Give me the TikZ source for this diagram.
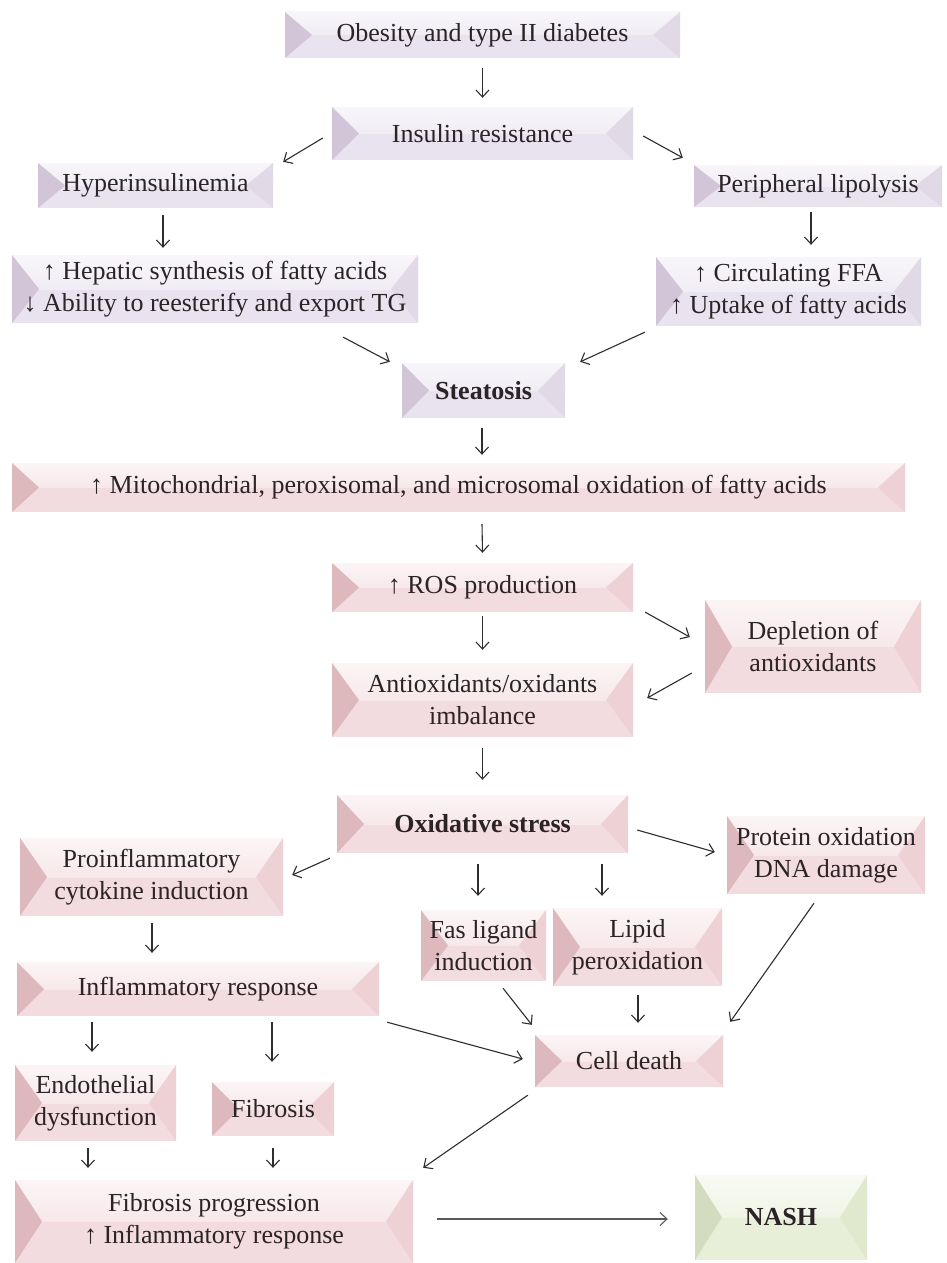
\documentclass[tikz,border=0pt]{standalone}
\usepackage{fontspec}
\setmainfont{Liberation Serif}
\usetikzlibrary{calc,arrows.meta}
\definecolor{pu}{HTML}{E9E2EF}
\definecolor{puL}{HTML}{D2C5D8}
\definecolor{puR}{HTML}{E2D9E7}
\definecolor{pk}{HTML}{F3DCDF}
\definecolor{pkL}{HTML}{DDB9BE}
\definecolor{pkR}{HTML}{EDD1D5}
\definecolor{gr}{HTML}{E8EFD8}
\definecolor{grL}{HTML}{D3DCBE}
\definecolor{grR}{HTML}{E0E8CD}
\definecolor{txt}{HTML}{2B2326}
\definecolor{arc}{HTML}{2E2E2E}
\tikzset{
  box/.style n args={3}{fill=#1, draw=none, inner sep=0pt, align=center, text=txt,
    font=\fontsize{26}{32}\selectfont,
    path picture={
      \shade[top color=white!70!#1, bottom color=#1]
        (path picture bounding box.north west) rectangle
        ($(path picture bounding box.north east)!0.5!(path picture bounding box.south east)$);
      \fill[#3] (path picture bounding box.south east) -- (path picture bounding box.north east)
        -- ($(path picture bounding box.east)+(-27,0)$) -- cycle;
      \fill[#2] (path picture bounding box.south west) -- (path picture bounding box.north west)
        -- ($(path picture bounding box.west)+(27,0)$) -- cycle;
    }},
  pbox/.style={box={pu}{puL}{puR}},
  kbox/.style={box={pk}{pkL}{pkR}},
  gbox/.style={box={gr}{grL}{grR}},
  arr/.style={draw=arc, line width=1.1pt, -{Straight Barb[length=7pt,width=13pt,line width=1.1pt]}},
}
\begin{document}
\begin{tikzpicture}[x=1pt,y=-1pt]
\useasboundingbox[fill=white] (0,0) rectangle (946,1263);
% purple boxes
\node[pbox, minimum width=395pt, minimum height=46pt] (obes) at (482.5,35) {Obesity and type II diabetes};
\node[pbox, minimum width=301pt, minimum height=53pt] (ins) at (482.5,133.5) {Insulin resistance};
\node[pbox, minimum width=235pt, minimum height=45pt] (hyp) at (155.5,185.5) {Hyperinsulinemia};
\node[pbox, minimum width=248pt, minimum height=42pt] (per) at (818,186) {Peripheral lipolysis};
\node[pbox, minimum width=406pt, minimum height=68pt] (hep) at (215,289) {↑ Hepatic synthesis of fatty acids\\↓ Ability to reesterify and export TG};
\node[pbox, minimum width=265pt, minimum height=69pt] (circ) at (788.5,291.5) {↑ Circulating FFA\\↑ Uptake of fatty acids};
\node[pbox, minimum width=163pt, minimum height=55pt] (ste) at (483.5,390.5) {\bfseries Steatosis};
% pink boxes
\node[kbox, minimum width=893pt, minimum height=49pt] (mito) at (458.5,487.5) {↑ Mitochondrial, peroxisomal, and microsomal oxidation of fatty acids};
\node[kbox, minimum width=301pt, minimum height=49pt] (ros) at (482.5,587.5) {↑ ROS production};
\node[kbox, minimum width=301pt, minimum height=74pt] (anti) at (482.5,700) {Antioxidants/oxidants\\imbalance};
\node[kbox, minimum width=216pt, minimum height=93pt] (dep) at (813,646.5) {Depletion of\\antioxidants};
\node[kbox, minimum width=291pt, minimum height=58pt] (oxs) at (482.5,824) {\bfseries Oxidative stress};
\node[kbox, minimum width=198pt, minimum height=78pt] (prot) at (826,855) {Protein oxidation\\DNA damage};
\node[kbox, minimum width=263pt, minimum height=78pt] (pro) at (151.5,877) {Proinflammatory\\cytokine induction};
\node[kbox, minimum width=125pt, minimum height=71pt] (fas) at (483.5,945.5) {Fas ligand\\induction};
\node[kbox, minimum width=169pt, minimum height=78pt] (lip) at (637.5,947) {Lipid\\peroxidation};
\node[kbox, minimum width=362pt, minimum height=54pt] (infl) at (198,989) {Inflammatory response};
\node[kbox, minimum width=188pt, minimum height=52pt] (cell) at (629,1061) {Cell death};
\node[kbox, minimum width=161pt, minimum height=76pt] (endo) at (95.5,1103) {Endothelial\\dysfunction};
\node[kbox, minimum width=122pt, minimum height=54pt] (fib) at (273,1109) {Fibrosis};
\node[kbox, minimum width=398pt, minimum height=83pt] (fp) at (214,1221.5) {Fibrosis progression\\↑ Inflammatory response};
\node[gbox, minimum width=172pt, minimum height=85pt] (nash) at (781,1217.5) {\bfseries NASH};
% arrows
\draw[arr] ($(obes.south)+(0,10)$) -- ($(ins.north)+(0,-9)$);
\draw[arr] ($(ins.west)+(-9,4.5)$) -- ($(hyp.north east)+(10,-1)$);
\draw[arr] ($(ins.east)+(10,2.5)$) -- ($(per.north west)+(-11,-7)$);
\draw[arr] ($(hyp.south)+(7.5,7)$) -- ($(hep.north)+(-52,-7)$);
\draw[arr] ($(per.south)+(-7,5)$) -- ($(circ.north)+(22.5,-12)$);
\draw[arr] ($(hep.south east)+(-75,14)$) -- ($(ste.north west)+(-12,-1)$);
\draw[arr] ($(circ.south west)+(-11,6)$) -- ($(ste.north east)+(15,-1)$);
\draw[arr] ($(ste.south)+(-1.5,10)$) -- ($(mito.north)+(23.5,-8)$);
\draw[arr] ($(mito.south)+(23.5,12)$) -- ($(ros.north)+(0,-10)$);
\draw[arr] ($(ros.south)+(0,4)$) -- ($(anti.north)+(0,-13)$);
\draw[arr] ($(ros.south east)+(12,0)$) -- ($(dep.west)+(-15,-9.5)$);
\draw[arr] ($(dep.west)+(-13,26.5)$) -- ($(anti.east)+(14,-2)$);
\draw[arr] ($(anti.south)+(0,11)$) -- ($(oxs.north)+(0,-15)$);
\draw[arr] ($(oxs.south west)+(-7,5)$) -- ($(pro.east)+(9,-2)$);
\draw[arr] ($(oxs.east)+(9,6)$) -- ($(prot.west)+(-12,-3)$);
\draw[arr] ($(oxs.south)+(-4.5,11)$) -- ($(fas.north)+(-5.5,-14)$);
\draw[arr] ($(oxs.south)+(119.5,11)$) -- ($(lip.north)+(-35.5,-12)$);
\draw[arr] ($(pro.south)+(0.5,7)$) -- ($(infl.north)+(-46,-9)$);
\draw[arr] ($(fas.south)+(19.5,7)$) -- ($(cell.north west)+(-3,-10)$);
\draw[arr] ($(lip.south)+(0.5,9)$) -- ($(cell.north)+(9,-12)$);
\draw[arr] ($(prot.south)+(-12,9)$) -- ($(cell.north east)+(7,-13)$);
\draw[arr] ($(infl.south east)+(8,6)$) -- ($(cell.west)+(-12,-2)$);
\draw[arr] ($(infl.south)+(-106,6)$) -- ($(endo.north)+(-3.5,-13)$);
\draw[arr] ($(infl.south)+(74,6)$) -- ($(fib.north)+(-1,-20)$);
\draw[arr] ($(endo.south)+(-7.5,7)$) -- ($(fp.north)+(-126,-12)$);
\draw[arr] ($(fib.south)+(0,12)$) -- ($(fp.north)+(59,-12)$);
\draw[arr] ($(cell.south west)+(-7,8)$) -- ($(fp.north east)+(10,-12)$);
\draw[arr, draw=black!65, line width=1.4pt] ($(fp.east)+(24,-2.5)$) -- ($(nash.west)+(-27,1.5)$);
\end{tikzpicture}
\end{document}
